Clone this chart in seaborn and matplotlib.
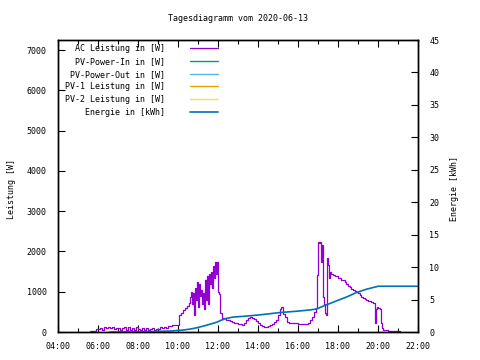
import matplotlib
matplotlib.use("Agg")
import matplotlib.pyplot as plt
import seaborn as sns
import pandas as pd

# ---------------- data ----------------
title = "Tagesdiagramm vom 2020-06-13"
ac_times = ["05:36", "05:45", "05:54", "06:00", "06:06", "06:12", "06:18", "06:24", "06:30", "06:36",
            "06:42", "06:48", "06:54", "07:00", "07:06", "07:12", "07:18", "07:24", "07:30", "07:36",
            "07:42", "07:48", "07:54", "08:00", "08:06", "08:12", "08:18", "08:24", "08:30", "08:36",
            "08:42", "08:48", "08:54", "09:00", "09:06", "09:12", "09:18", "09:24", "09:30", "09:36",
            "09:42", "09:48", "09:54", "10:00", "10:03", "10:09", "10:15", "10:21", "10:27", "10:33",
            "10:36", "10:39", "10:42", "10:45", "10:48", "10:51", "10:54", "10:57", "11:00", "11:03",
            "11:06", "11:09", "11:12", "11:15", "11:18", "11:21", "11:24", "11:27", "11:30", "11:33",
            "11:36", "11:39", "11:42", "11:45", "11:48", "11:51", "11:54", "11:57", "12:00", "12:03",
            "12:06", "12:12", "12:18", "12:24", "12:30", "12:36", "12:42", "12:48", "12:54", "13:00",
            "13:06", "13:12", "13:18", "13:24", "13:30", "13:36", "13:42", "13:48", "13:54", "14:00",
            "14:06", "14:12", "14:18", "14:24", "14:30", "14:36", "14:42", "14:48", "14:54", "15:00",
            "15:06", "15:10", "15:15", "15:21", "15:27", "15:33", "15:40", "15:50", "16:00", "16:10",
            "16:20", "16:30", "16:36", "16:42", "16:48", "16:54", "16:57", "17:00", "17:03", "17:06",
            "17:09", "17:12", "17:15", "17:18", "17:21", "17:24", "17:27", "17:30", "17:33", "17:36",
            "17:40", "17:45", "17:50", "17:55", "18:00", "18:05", "18:10", "18:15", "18:20", "18:25",
            "18:30", "18:35", "18:40", "18:45", "18:50", "18:55", "19:00", "19:05", "19:10", "19:15",
            "19:20", "19:25", "19:30", "19:35", "19:40", "19:45", "19:48", "19:51", "19:54", "19:57",
            "20:00", "20:05", "20:08", "20:11", "20:14", "20:20", "20:30", "20:40", "20:50", "21:00",
            "21:06"]
ac_power = [20, 30, 75, 80, 110, 60, 120, 90, 130, 100,
            120, 70, 110, 90, 60, 100, 130, 60, 120, 40,
            110, 50, 120, 80, 40, 90, 60, 100, 50, 70,
            90, 60, 80, 70, 130, 90, 130, 100, 150, 160,
            170, 170, 180, 180, 420, 470, 540, 600, 650, 720,
            880, 1000, 700, 980, 430, 1100, 800, 1250, 620, 1200,
            900, 1050, 700, 980, 560, 1300, 800, 1400, 700, 1450,
            1200, 1500, 1100, 1650, 1350, 1750, 1450, 1750, 1000, 950,
            480, 350, 350, 300, 300, 280, 260, 230, 220, 200,
            190, 185, 220, 300, 360, 380, 340, 320, 280, 220,
            180, 140, 120, 115, 140, 170, 200, 240, 300, 420,
            560, 630, 450, 380, 255, 230, 215, 215, 210, 205,
            200, 220, 300, 380, 500, 590, 1410, 2240, 2200, 2240,
            1750, 2150, 880, 700, 460, 420, 1830, 1660, 1340, 1500,
            1450, 1410, 1380, 1400, 1340, 1350, 1300, 1280, 1250, 1200,
            1150, 1120, 1080, 1040, 1020, 1000, 970, 920, 880, 840,
            810, 800, 770, 760, 740, 720, 720, 215, 580, 630,
            590, 560, 220, 90, 60, 40, 30, 20, 30, 20,
            20]

energy_times = ["06:36", "08:06", "09:36", "10:15", "10:36", "10:56", "11:15", "11:36", "11:56", "12:11",
                "12:26", "12:45", "13:26", "14:16", "15:06", "15:56", "16:36", "16:56", "17:16", "17:46",
                "18:26", "18:56", "19:26", "19:45", "20:01", "22:00"]
energy_kwh = [0.0, 0.02, 0.15, 0.3, 0.45, 0.65, 0.9, 1.2, 1.5, 1.85,
              2.1, 2.3, 2.45, 2.7, 3.0, 3.2, 3.4, 3.55, 4.0, 4.6,
              5.4, 6.1, 6.6, 6.85, 7.05, 7.05]

pv_power_in = []
pv_power_out = []
pv1_power = []
pv2_power = []

x_ticks = ["04:00", "06:00", "08:00", "10:00", "12:00", "14:00", "16:00", "18:00", "20:00", "22:00"]
y_ticks = [0, 1000, 2000, 3000, 4000, 5000, 6000, 7000]
y2_ticks = [0, 5, 10, 15, 20, 25, 30, 35, 40, 45]

labels = ["AC Leistung in [W]", "PV-Power-In in [W]", "PV-Power-Out in [W]",
          "PV-1 Leistung in [W]", "PV-2 Leistung in [W]", "Energie in [kWh]"]
colors = ["#9400d3", "#009e73", "#56b4e9", "#e69f00", "#f0e442", "#0072b2"]


def to_hours(ts):
    return [pd.to_timedelta(t + ":00").total_seconds() / 3600.0 for t in ts]


ac_df = pd.DataFrame({"h": to_hours(ac_times), "w": ac_power})
en_df = pd.DataFrame({"h": to_hours(energy_times), "e": energy_kwh})

# ---------------- style ----------------
sns.set_theme(style="white")
FONT = "DejaVu Sans Mono"
FS = 6.0
plt.rcParams["font.family"] = [FONT, "DejaVu Sans"]
plt.rcParams["axes.edgecolor"] = "black"
plt.rcParams["axes.linewidth"] = 1.0

fig = plt.figure(figsize=(4.8, 3.6), dpi=100)
ax = fig.add_axes([58 / 480, 28 / 360, 360 / 480, 292 / 360])
ax2 = ax.twinx()

sns.lineplot(data=ac_df, x="h", y="w", ax=ax, color=colors[0], lw=0.9,
             drawstyle="steps-post", estimator=None, sort=False, label=labels[0], legend=False)
for vals, lab, col in zip([pv_power_in, pv_power_out, pv1_power, pv2_power], labels[1:5], colors[1:5]):
    ax.plot(to_hours([]), vals, color=col, lw=1.0, label=lab)
sns.lineplot(data=en_df, x="h", y="e", ax=ax2, color=colors[5], lw=1.2,
             estimator=None, sort=False, label=labels[5], legend=False)

ax.set_xlim(4, 22)
ax.set_ylim(0, 7250)
ax2.set_ylim(0, 45)

ax.set_xticks(to_hours(x_ticks))
ax.set_xticklabels(x_ticks)
ax.set_xticks([h + 1 for h in to_hours(x_ticks)[:-1]], minor=True)
ax.set_yticks(y_ticks)
ax.set_yticklabels([str(v) for v in y_ticks])
ax2.set_yticks(y2_ticks)
ax2.set_yticklabels([str(v) for v in y2_ticks])

ax.tick_params(axis="x", which="both", direction="in", top=True, bottom=True,
               labelsize=FS, pad=7, colors="black")
ax.tick_params(axis="x", which="major", length=5, width=0.8)
ax.tick_params(axis="x", which="minor", length=3, width=0.8)
ax.tick_params(axis="y", which="major", direction="in", left=True, right=False,
               length=5, width=0.8, labelsize=FS, pad=8, colors="black")
ax2.tick_params(axis="y", which="major", direction="in", right=True, left=False,
                length=5, width=0.8, labelsize=FS, pad=8, colors="black")

ax.set_xlabel("")
ax.set_ylabel("Leistung [W]", fontsize=FS, color="black")
ax.yaxis.set_label_coords(-0.118, 0.49)
ax2.set_ylabel("Energie [kWh]", fontsize=FS, color="black")
ax2.yaxis.set_label_coords(1.088, 0.49)
ax.set_title(title, fontsize=FS, color="black", pad=14)

for sp in ax.spines.values():
    sp.set_color("black")
    sp.set_linewidth(1.0)

h1, l1 = ax.get_legend_handles_labels()
h2, l2 = ax2.get_legend_handles_labels()
leg = ax.legend(h1 + h2, l1 + l2, loc="upper left", bbox_to_anchor=(0.008, 1.0),
                frameon=False, markerfirst=False, fontsize=FS,
                handlelength=3.4, handletextpad=3.0, labelspacing=0.45,
                borderaxespad=0.1)
for t in leg.get_texts():
    t.set_color("black")

fig.savefig("out.png", dpi=100)
